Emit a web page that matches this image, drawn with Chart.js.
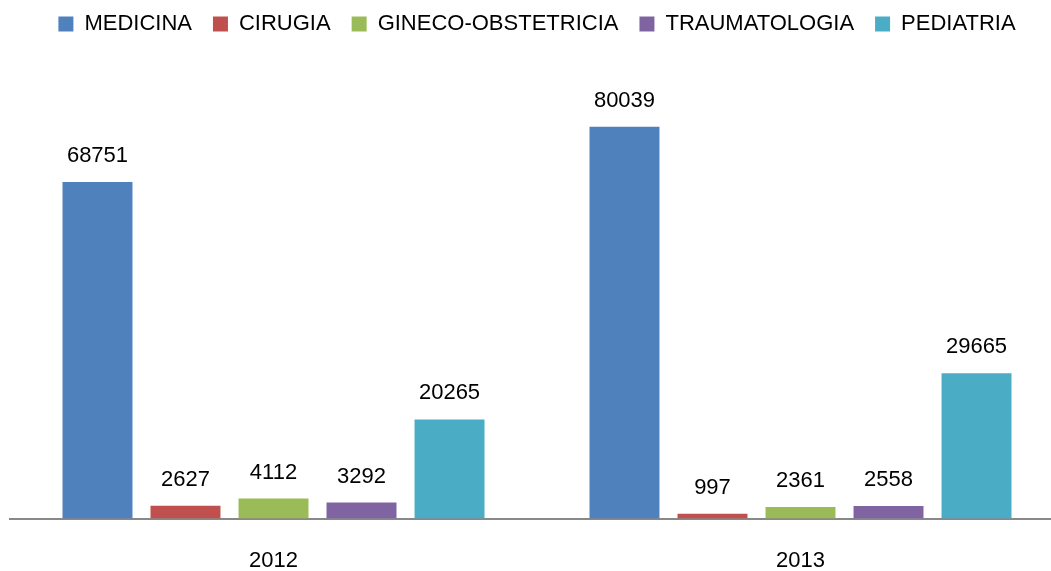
<!DOCTYPE html>
<html>
<head>
<meta charset="utf-8">
<script src="https://cdn.jsdelivr.net/npm/chart.js@4"></script>
<style>
  html, body { margin: 0; padding: 0; background: #fff; overflow: hidden; }
  #wrap { position: relative; width: 1064px; height: 571px; }
</style>
</head>
<body>
<div id="wrap"><canvas id="barChart"></canvas></div>
<script>
const years = ["2012", "2013"];
const medicina = [68751, 80039];
const cirugia = [2627, 997];
const gineco = [4112, 2361];
const trauma = [3292, 2558];
const pediatria = [20265, 29665];

const FONT = "'Liberation Sans', Arial, sans-serif";

// etiquetas encima de cada barra
const valueLabels = {
  id: "valueLabels",
  afterDatasetsDraw(chart) {
    const ctx = chart.ctx;
    ctx.save();
    ctx.font = "22px " + FONT;
    ctx.fillStyle = "#000";
    ctx.textAlign = "center";
    ctx.textBaseline = "middle";
    chart.data.datasets.forEach((ds, i) => {
      chart.getDatasetMeta(i).data.forEach((bar, j) => {
        ctx.fillText(ds.data[j], bar.x, bar.y - 26);
      });
    });
    ctx.restore();
  },
};

// espacio extra bajo la leyenda
const legendGap = {
  id: "legendGap",
  beforeInit(chart) {
    const fit = chart.legend.fit;
    chart.legend.fit = function () {
      fit.bind(chart.legend)();
      this.height += 33;
    };
  },
};

var ctx = document.getElementById("barChart").getContext("2d");
new Chart(ctx, {
  type: "bar",
  data: {
    labels: years,
    datasets: [
      { label: "MEDICINA", data: medicina, backgroundColor: "#4F81BD" },
      { label: "CIRUGIA", data: cirugia, backgroundColor: "#C0504D" },
      { label: "GINECO-OBSTETRICIA", data: gineco, backgroundColor: "#9BBB59" },
      { label: "TRAUMATOLOGIA", data: trauma, backgroundColor: "#8064A2" },
      { label: "PEDIATRIA", data: pediatria, backgroundColor: "#4BACC6" },
    ],
  },
  options: {
    responsive: true,
    maintainAspectRatio: false,
    animation: false,
    layout: { padding: { left: 10, right: 0, top: -8, bottom: -32 } },
    datasets: {
      bar: { categoryPercentage: 0.835, barPercentage: 0.795 },
    },
    plugins: {
      legend: {
        position: "top",
        labels: {
          boxWidth: 15,
          boxHeight: 15,
          padding: 21,
          color: "#000",
          font: { size: 22, family: FONT },
        },
      },
      tooltip: { enabled: false },
    },
    scales: {
      x: {
        grid: { display: false, drawTicks: false },
        border: { display: true, color: "#888888", width: 2 },
        ticks: { color: "#000", padding: 29, font: { size: 22, family: FONT } },
      },
      y: {
        display: false,
        min: 0,
        max: 90000,
      },
    },
  },
  plugins: [valueLabels, legendGap],
});
</script>
</body>
</html>
